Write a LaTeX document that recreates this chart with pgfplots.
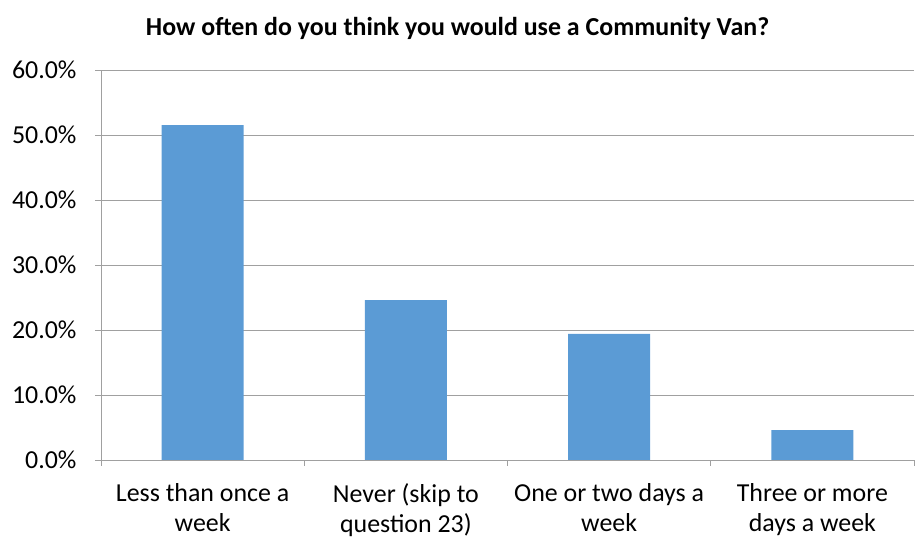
\documentclass[border=0pt]{standalone}
\usepackage{fontspec}
\setmainfont{Carlito}
\usepackage{pgfplots}
\pgfplotsset{compat=1.18}
\definecolor{barblue}{HTML}{5B9BD5}
\definecolor{gridgray}{HTML}{A0A0A0}
\begin{document}
\begin{tikzpicture}[x=1bp,y=1bp]
\useasboundingbox (0,0) rectangle (915,542);
\node[font=\fontsize{26}{30}\selectfont\bfseries] at (457.5,514) {How often do you think you would use a Community Van?};
\begin{axis}[
  at={(101bp,82bp)}, anchor=south west,
  scale only axis, width=813bp, height=390bp,
  ymin=0, ymax=60, xmin=-0.5, xmax=3.5,
  ytick={0,10,...,60},
  yticklabel={\pgfmathprintnumber[fixed,fixed zerofill,precision=1]{\tick}\%},
  /pgf/number format/assume math mode=true,
  ymajorgrids, grid style={gridgray, line width=0.8pt},
  axis line style={gridgray, line width=0.8pt},
  axis x line*=bottom, axis y line*=left,
  xtick={0,1,2,3},
  xticklabels={{Less than once a\\week},{Never (skip to\\question 23)},{One or two days a\\week},{Three or more\\days a week}},
  xticklabel style={align=center, font=\fontsize{26}{30}\selectfont, yshift=-14bp},
  yticklabel style={font=\fontsize{26}{30}\selectfont, xshift=-15bp},
  major x tick style={draw=none},
  minor xtick={-0.5,0.5,1.5,2.5,3.5},
  minor x tick style={gridgray, line width=0.8pt},
  minor tick length=6bp,
  major tick length=6bp,
  y tick style={gridgray, line width=0.8pt},
  tick align=outside,
  ybar, bar width=82bp,
  clip=false,
]
\addplot[fill=barblue, draw=none] coordinates {(0,51.5) (1,24.6) (2,19.4) (3,4.6)};
\end{axis}
\end{tikzpicture}
\end{document}
